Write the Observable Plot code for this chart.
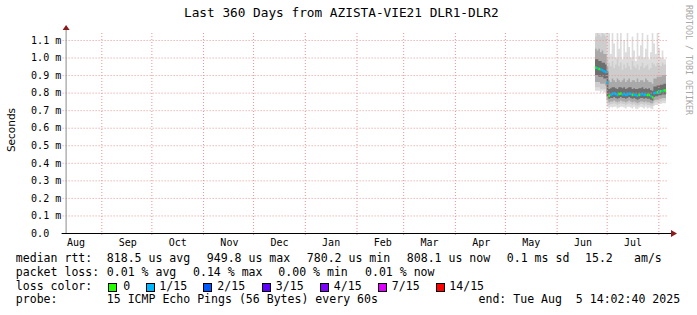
<!DOCTYPE html>
<html><head><meta charset="utf-8">
<script src="https://cdn.jsdelivr.net/npm/d3@7"></script>
<script src="https://cdn.jsdelivr.net/npm/@observablehq/plot@0.6"></script>
<style>
body{margin:0;background:#fff}
#wrap{position:relative;width:697px;height:315px;overflow:hidden;background:#fff;font-family:"DejaVu Sans Mono",monospace;color:#000}
.t{position:absolute;white-space:pre;line-height:1;font-size:11.55px}
.box{position:absolute;width:9px;height:9px;box-sizing:border-box;border:1px solid #000}
#chart{position:absolute;left:0;top:26px}
#title{position:absolute;left:184px;top:7.2px;font-size:12.75px;line-height:1;white-space:pre}
#ylab{position:absolute;left:11px;top:130px;font-family:"DejaVu Sans",sans-serif;font-size:10.5px;line-height:1;white-space:pre;transform:translate(-50%,-50%) rotate(-90deg)}
#wm{position:absolute;left:683px;top:5px;writing-mode:vertical-rl;font-size:8.3px;line-height:11px;color:#a8a8a8;white-space:pre}
</style></head>
<body><div id="wrap"><div id="chart"></div></div>
<script>
// ---------------- DATA ----------------
const titleText = "Last 360 Days from AZISTA-VIE21 DLR1-DLR2";
const yAxisLabel = "Seconds";
const watermark = "RRDTOOL / TOBI OETIKER";
const rangeStart = "2024-08-10T14:02:40Z";
const rangeEnd = "2025-08-05T14:02:40Z";
const yMax = 1.1398; // ms (upper limit)
const yTicks = [0, 0.1, 0.2, 0.3, 0.4, 0.5, 0.6, 0.7, 0.8, 0.9, 1.0, 1.1];
const yTickLabels = ["0.0", "0.1 m", "0.2 m", "0.3 m", "0.4 m", "0.5 m", "0.6 m", "0.7 m", "0.8 m", "0.9 m", "1.0 m", "1.1 m"];
const monthStarts = ["2024-09-01","2024-10-01","2024-11-01","2024-12-01","2025-01-01","2025-02-01","2025-03-01","2025-04-01","2025-05-01","2025-06-01","2025-07-01","2025-08-01"];
const monthLabelDates = ["2024-08-16T12:00Z","2024-09-16T12:00Z","2024-10-16T12:00Z","2024-11-16T12:00Z","2024-12-16T12:00Z","2025-01-16T12:00Z","2025-02-16T12:00Z","2025-03-16T12:00Z","2025-04-16T12:00Z","2025-05-16T12:00Z","2025-06-16T12:00Z","2025-07-16T12:00Z"];
const monthLabels = ["Aug","Sep","Oct","Nov","Dec","Jan","Feb","Mar","Apr","May","Jun","Jul"];

const days = ["2025-06-24","2025-06-25","2025-06-26","2025-06-27","2025-06-28","2025-06-29","2025-06-30",
  "2025-07-01","2025-07-02","2025-07-03","2025-07-04","2025-07-05","2025-07-06","2025-07-07","2025-07-08","2025-07-09","2025-07-10",
  "2025-07-11","2025-07-12","2025-07-13","2025-07-14","2025-07-15","2025-07-16","2025-07-17","2025-07-18","2025-07-19","2025-07-20",
  "2025-07-21","2025-07-22","2025-07-23","2025-07-24","2025-07-25","2025-07-26","2025-07-27","2025-07-28","2025-07-29","2025-07-30",
  "2025-07-31","2025-08-01","2025-08-02","2025-08-03","2025-08-04"];
// median rtt (ms)
const median = [0.945,0.942,0.938,0.935,0.930,0.925,0.920,
  0.860,
  0.785,0.790,0.795,0.798,0.795,0.790,0.795,0.797,0.792,0.795,0.790,0.792,0.796,0.795,0.790,0.791,0.789,0.786,0.790,0.792,0.795,0.790,0.791,0.789,0.790,0.784,0.776,
  0.800,0.802,0.805,
  0.806,0.810,0.812,0.815];
// loss bucket (index into lossColors)
const loss = [0,1,0,1,1,1,1,
  1,
  0,1,1,1,1,1,0,0,1,1,1,1,1,1,0,1,1,1,0,1,1,1,1,0,0,1,0,
  1,1,0,
  1,0,1,0];
// smoke: min/max and inner quantile bands (ms)
const smokeMax = [1.2,1.2,1.2,1.2,1.2,1.2,1.2,
  1.2,
  1.20,1.02,1.20,1.08,1.00,1.15,1.05,1.20,0.99,1.10,1.03,1.20,1.06,1.00,1.12,1.04,0.98,1.18,1.01,1.07,1.20,1.00,1.05,1.13,0.99,1.03,1.20,
  1.08,1.02,1.20,
  1.05,1.00,1.04,0.99];
const smokeHi3 = [1.12,1.14,1.13,1.12,1.14,1.13,1.12,
  1.00,
  0.97,0.95,0.98,0.94,0.96,0.99,0.95,0.97,0.93,0.96,0.94,0.97,0.95,0.93,0.98,0.95,0.94,0.96,0.93,0.95,0.97,0.94,0.95,0.96,0.93,0.94,0.97,
  0.96,0.95,0.97,
  0.96,0.95,0.97,0.96];
const smokeHi2 = [1.05,1.04,1.05,1.03,1.04,1.02,1.02,
  0.95,
  0.87,0.86,0.88,0.87,0.86,0.88,0.87,0.86,0.87,0.88,0.86,0.87,0.88,0.86,0.87,0.87,0.86,0.88,0.86,0.87,0.87,0.86,0.88,0.87,0.86,0.86,0.85,
  0.88,0.88,0.89,
  0.89,0.89,0.90,0.90];
const smokeHi1 = [0.99,0.99,0.98,0.98,0.97,0.97,0.96,
  0.92,
  0.82,0.825,0.83,0.83,0.825,0.82,0.83,0.83,0.825,0.83,0.82,0.825,0.83,0.83,0.82,0.825,0.82,0.82,0.825,0.825,0.83,0.82,0.825,0.82,0.825,0.815,0.81,
  0.835,0.835,0.84,
  0.84,0.845,0.845,0.85];
const smokeLo1 = [0.90,0.90,0.89,0.89,0.89,0.88,0.88,
  0.78,
  0.765,0.77,0.77,0.775,0.77,0.765,0.77,0.775,0.77,0.77,0.765,0.77,0.775,0.77,0.765,0.77,0.765,0.76,0.765,0.77,0.77,0.765,0.77,0.765,0.765,0.76,0.755,
  0.775,0.78,0.78,
  0.785,0.785,0.79,0.79];
const smokeLo2 = [0.86,0.86,0.86,0.85,0.85,0.85,0.84,
  0.76,
  0.745,0.75,0.75,0.755,0.75,0.745,0.75,0.755,0.75,0.75,0.745,0.75,0.755,0.75,0.745,0.75,0.745,0.74,0.745,0.75,0.75,0.745,0.75,0.745,0.745,0.74,0.74,
  0.755,0.76,0.76,
  0.765,0.765,0.77,0.77];
const smokeLo3 = [0.83,0.83,0.83,0.82,0.82,0.82,0.82,
  0.74,
  0.73,0.735,0.735,0.74,0.735,0.73,0.735,0.74,0.735,0.735,0.73,0.735,0.74,0.735,0.73,0.735,0.73,0.725,0.73,0.735,0.735,0.73,0.735,0.73,0.73,0.725,0.725,
  0.74,0.745,0.745,
  0.75,0.75,0.755,0.755];
const smokeMin = [0.81,0.81,0.81,0.80,0.81,0.80,0.80,
  0.72,
  0.71,0.72,0.715,0.72,0.72,0.71,0.715,0.72,0.72,0.715,0.71,0.72,0.72,0.715,0.71,0.72,0.71,0.705,0.715,0.72,0.715,0.71,0.72,0.71,0.715,0.71,0.705,
  0.725,0.73,0.73,
  0.735,0.735,0.74,0.74];

const lossColors = ["#26ff00","#00b8ff","#0059ff","#5e00ff","#7e00ff","#dd00ff","#ff0000"];
const lossLabels = ["0","1/15","2/15","3/15","4/15","7/15","14/15"];
const rttStats = ["818.5 us avg","949.8 us max","780.2 us min","808.1 us now","0.1 ms sd","15.2","am/s"];
const lossStats = ["0.01 % avg","0.14 % max","0.00 % min","0.01 % now"];
const rowLabels = ["median rtt:","packet loss:","loss color:","probe:"];
const probeText = "15 ICMP Echo Pings (56 Bytes) every 60s";
const endText = "end: Tue Aug  5 14:02:40 2025";

// ---------------- BUILD ----------------
const start = new Date(rangeStart), end = new Date(rangeEnd);
const table = days.map((d, i) => ({
  date: new Date(d), median: median[i], loss: loss[i],
  max: smokeMax[i], hi3: smokeHi3[i], hi2: smokeHi2[i], hi1: smokeHi1[i],
  lo1: smokeLo1[i], lo2: smokeLo2[i], lo3: smokeLo3[i], min: smokeMin[i]
}));
table.forEach((r, i) => r.next = i + 1 < table.length ? table[i + 1].date : end);
const areaData = [...table, {...table[table.length - 1], date: end}];
const monthTicks = monthLabelDates.map((d, i) => ({date: new Date(d), label: monthLabels[i]}));
const yTickData = yTicks.map((v, i) => ({v, label: yTickLabels[i]}));

const grid = "#e79494";
const plot = Plot.plot({
  width: 697, height: 226,
  marginLeft: 65.6, marginRight: 31, marginTop: 7, marginBottom: 19,
  style: {fontFamily: "'DejaVu Sans Mono', monospace", fontSize: "10px", background: "transparent", color: "#000", overflow: "visible"},
  x: {type: "utc", domain: [start, end], axis: null},
  y: {domain: [0, yMax], axis: null},
  marks: [
    Plot.areaY(areaData, {x: "date", y1: "min", y2: "max", fill: "#dddddd", curve: "step-after", clip: true}),
    Plot.areaY(areaData, {x: "date", y1: "lo3", y2: "hi3", fill: "#cdcdcd", curve: "step-after", clip: true}),
    Plot.areaY(areaData, {x: "date", y1: "lo2", y2: "hi2", fill: "#a9a9a9", curve: "step-after", clip: true}),
    Plot.areaY(areaData, {x: "date", y1: "lo1", y2: "hi1", fill: "#6e6e6e", curve: "step-after", clip: true}),
    Plot.ruleX(monthStarts.map(d => new Date(d)), {x: d => d, stroke: grid, strokeDasharray: "1,2", insetBottom: -3}),
    Plot.ruleY(yTicks.filter(v => v > 0), {y: d => d, stroke: grid, strokeDasharray: "1,2", insetLeft: -3, insetRight: -2}),
    Plot.ruleY(table, {y: "median", x1: "date", x2: "next", stroke: d => lossColors[d.loss], strokeWidth: 2.5}),
    Plot.text(yTickData, {y: "v", text: "label", frameAnchor: "left", dx: -35, textAnchor: "start", fontSize: 10}),
    Plot.text(monthTicks, {x: "date", text: "label", frameAnchor: "bottom", lineAnchor: "top", dy: 5.3, fontSize: 10})
  ]
});
document.getElementById("chart").appendChild(plot);

// axes lines and arrows from scale ranges
const xr = plot.scale("x").range, yr = plot.scale("y").range;
const svg = d3.select(plot);
const y0 = yr[0] + 0.5, x0 = xr[0] + 0.5;
svg.append("line").attr("x1", x0).attr("x2", x0).attr("y1", y0).attr("y2", yr[1] - 3).attr("stroke", "#8c8c8c");
svg.append("line").attr("x1", xr[0] - 4).attr("x2", xr[1] + 5).attr("y1", y0).attr("y2", y0).attr("stroke", "#000");
svg.append("path").attr("d", `M${xr[1] + 5},${y0 - 3.5}L${xr[1] + 11},${y0}L${xr[1] + 5},${y0 + 3.5}Z`).attr("fill", "#8b1a1a");
svg.append("path").attr("d", `M${x0 - 3.5},${yr[1] - 3}L${x0},${yr[1] - 8}L${x0 + 3.5},${yr[1] - 3}Z`).attr("fill", "#8b1a1a");

// ---------------- TEXT / LEGEND ----------------
const wrap = document.getElementById("wrap");
function add(cls, text, left, top, extra) {
  const el = document.createElement("div");
  el.className = cls; el.textContent = text;
  el.style.left = left + "px"; el.style.top = top + "px";
  if (extra) Object.assign(el.style, extra);
  wrap.appendChild(el); return el;
}
const t = document.createElement("div"); t.id = "title"; t.textContent = titleText; wrap.appendChild(t);
const yl = document.createElement("div"); yl.id = "ylab"; yl.textContent = yAxisLabel; wrap.appendChild(yl);
const wm = document.createElement("div"); wm.id = "wm"; wm.textContent = watermark; wrap.appendChild(wm);

const baseOff = 9.77;
const rows = [263, 277, 290.5, 304].map(b => b - baseOff);
rowLabels.forEach((s, i) => add("t", s, 15.8, rows[i]));
[106.8, 206.8, 306.8, 406.8, 506.8, 585, 634].forEach((x, i) => add("t", rttStats[i], x, rows[0]));
[106.8, 193, 278.3, 365].forEach((x, i) => add("t", lossStats[i], x, rows[1]));
const boxX = [108, 145.5, 203, 261.5, 319.5, 377.5, 435.5];
const labX = [123.3, 159.3, 217.3, 275.8, 333.8, 391.8, 449.3];
lossColors.forEach((c, i) => {
  add("box", "", boxX[i], 283, {background: c});
  add("t", lossLabels[i], labX[i], rows[2]);
});
add("t", probeText, 106.8, rows[3]);
add("t", endText, 478.5, rows[3]);
</script>
</body></html>
